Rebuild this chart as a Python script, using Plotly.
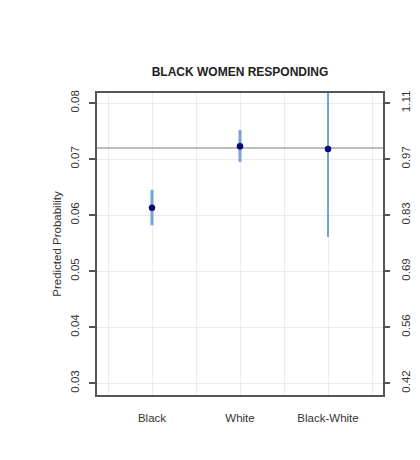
import plotly.graph_objects as go

categories = ["Black", "White", "Black-White"]
cat_pos = [1, 2, 3]
estimates = [0.0613, 0.0723, 0.0718]
upper = [0.0645, 0.0752, 0.0875]
lower = [0.0582, 0.0695, 0.0561]
reference = 0.072

left_ticks = [0.03, 0.04, 0.05, 0.06, 0.07, 0.08]
left_labels = ["0.03", "0.04", "0.05", "0.06", "0.07", "0.08"]
right_labels = ["0.42", "0.56", "0.69", "0.83", "0.97", "1.11"]
bar_widths = [3, 3, 2]

FONT = "Liberation Sans, Arial, sans-serif"

fig = go.Figure()

# reference line
fig.add_trace(go.Scatter(x=[0.375, 3.625], y=[reference, reference], mode="lines",
                         line=dict(color="#a8a8a8", width=1.5), hoverinfo="skip", showlegend=False))

for i in range(len(categories)):
    fig.add_trace(go.Scatter(
        x=[cat_pos[i]], y=[estimates[i]], mode="markers",
        marker=dict(color="#0a0a6e", size=6.5),
        error_y=dict(type="data", symmetric=False,
                     array=[upper[i] - estimates[i]],
                     arrayminus=[estimates[i] - lower[i]],
                     color="rgba(90,150,205,0.85)", thickness=bar_widths[i], width=0),
        showlegend=False))

# invisible trace for right axis
fig.add_trace(go.Scatter(x=[cat_pos[0]], y=[estimates[0]], yaxis="y2", mode="markers",
                         marker=dict(opacity=0), hoverinfo="skip", showlegend=False))

tickfont = dict(family=FONT, size=11.5, color="#333333")

fig.update_layout(
    width=420, height=460,
    margin=dict(l=89, r=45, t=85, b=73),
    paper_bgcolor="white", plot_bgcolor="white",
    title=dict(text="<b>BLACK WOMEN RESPONDING</b>", x=0.5, xanchor="center", xref="paper",
               y=1 - 64 / 460, yanchor="middle",
               font=dict(family=FONT, size=12, color="#222222")),
    xaxis=dict(range=[0.375, 3.625], tickvals=cat_pos, ticktext=categories,
               showgrid=True, gridcolor="#ececec", gridwidth=1, zeroline=False,
               minor=dict(tickvals=[0.5, 1.5, 2.5, 3.5], showgrid=True, gridcolor="#ececec", gridwidth=1),
               showline=True, linecolor="#555555", linewidth=2, mirror=True,
               ticks="", tickfont=tickfont, ticklabelstandoff=11, automargin=False),
    yaxis=dict(range=[0.0279, 0.0818], tickvals=left_ticks, ticktext=left_labels,
               showgrid=True, gridcolor="#ececec", gridwidth=1, zeroline=False,
               showline=True, linecolor="#555555", linewidth=2, mirror=True,
               ticks="outside", ticklen=6, tickcolor="#555555", tickwidth=1.5,
               tickangle=-90, tickfont=tickfont, automargin=False, ticklabelstandoff=5,
               title=dict(text="Predicted Probability",
                          font=dict(family=FONT, size=11.5, color="#333333"),
                          standoff=5)),
    yaxis2=dict(range=[0.0279, 0.0818], overlaying="y", side="right",
                tickvals=left_ticks, ticktext=right_labels, showgrid=False, zeroline=False,
                ticks="outside", ticklen=6, tickcolor="#555555", tickwidth=1.5,
                tickangle=-90, tickfont=tickfont, showline=False, automargin=False,
                ticklabelstandoff=6),
)

fig.write_html("out.html")
